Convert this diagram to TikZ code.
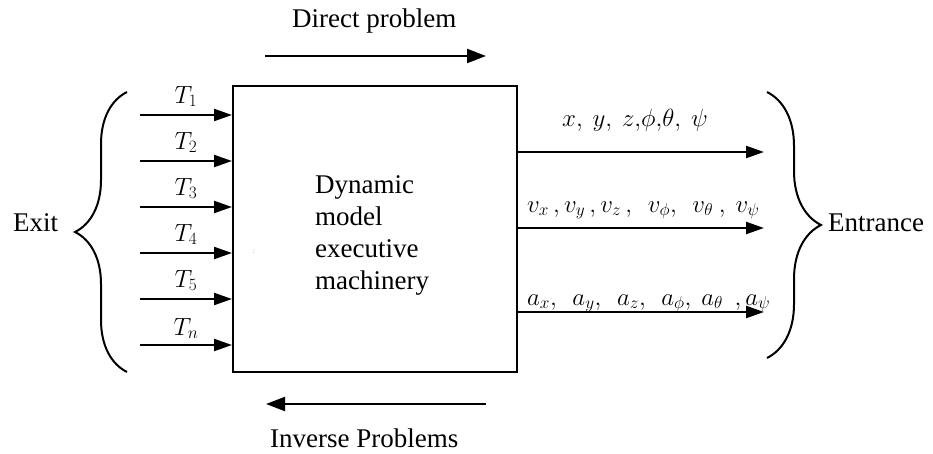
\documentclass[tikz,border=0pt]{standalone}
\usepackage{fontspec}
\setmainfont{Liberation Serif}
\usetikzlibrary{arrows.meta, positioning, calc, decorations.pathreplacing}
\tikzset{
    modelbox/.style={draw, line width=2pt, minimum width=284pt,
                     minimum height=286pt, inner sep=0pt},
    bigtext/.style={font=\fontsize{27}{32}\selectfont, inner sep=0pt},
    symtext/.style={font=\fontsize{23}{26}\selectfont, inner sep=0pt},
    tlabel/.style={font=\fontsize{26}{28}\selectfont, inner sep=0pt},
    sigarrow/.style={-{Triangle[length=18pt, width=12pt]}, line width=2.2pt},
    probarrow/.style={-{Triangle[length=19pt, width=14pt]}, line width=2.2pt},
    bracket/.style={decorate, decoration={brace, amplitude=#1}, line width=2pt},
}

\begin{document}
\begin{tikzpicture}[x=1pt, y=1pt]
    \useasboundingbox (0,0) rectangle (933,-454);
    % Model block
    \node[modelbox] (model) at (375,-229) {};
    \node[bigtext, anchor=north west, align=left] (modeltext) at (315,-175)
        {Dynamic\\model\\executive\\machinery};
    \node[inner sep=0pt, font=\scriptsize, gray] (dots) at (254,-252) {:};
    % Direct / inverse problem
    \node[bigtext, anchor=base west] (direct) at (292,-28) {Direct problem};
    \coordinate (dirL) at (265,-56);
    \coordinate (dirR) at (486,-56);
    \draw[probarrow] (dirL) -- (dirR);
    \coordinate (invR) at (486,-404);
    \coordinate (invL) at (266,-404);
    \draw[probarrow] (invR) -- (invL);
    \node[bigtext, anchor=base west] (inverse) at (270,-447) {Inverse Problems};
    % Inputs
    \coordinate (in1) at (140,-115);
    \coordinate (in2) at (140,-161);
    \coordinate (in3) at (140,-207);
    \coordinate (in4) at (140,-253);
    \coordinate (in5) at (140,-299);
    \coordinate (in6) at (140,-345);
    \draw[sigarrow] (in1) -- node[tlabel, above=7pt] (t1) {$T_1$} (in1 -| model.west);
    \draw[sigarrow] (in2) -- node[tlabel, above=7pt] (t2) {$T_2$} (in2 -| model.west);
    \draw[sigarrow] (in3) -- node[tlabel, above=7pt] (t3) {$T_3$} (in3 -| model.west);
    \draw[sigarrow] (in4) -- node[tlabel, above=7pt] (t4) {$T_4$} (in4 -| model.west);
    \draw[sigarrow] (in5) -- node[tlabel, above=7pt] (t5) {$T_5$} (in5 -| model.west);
    \draw[sigarrow] (in6) -- node[tlabel, above=5pt] (tn) {$T_n$} (in6 -| model.west);
    % Outputs
    \coordinate (out1) at (764,-152);
    \coordinate (out2) at (764,-228);
    \coordinate (out3) at (764,-312);
    \draw[sigarrow] (out1 -| model.east) -- (out1);
    \draw[sigarrow] (out2 -| model.east) -- (out2);
    \draw[sigarrow] (out3 -| model.east) -- (out3);
    \node[symtext, anchor=base west] (pos) at (562,-127)
        {$x,\ y,\ z,\!\phi,\!\theta,\ \psi$};
    \node[symtext, anchor=base west] (vel) at (527,-212)
        {$v_x\,, v_y\,, v_z\,,\ \ v_\phi,\ \ v_\theta\ ,\ v_\psi$};
    \node[symtext, anchor=base west] (acc) at (527,-305)
        {$a_x,\ \ a_y,\ \ a_z,\ \ a_\phi,\ a_\theta\ \ , a_\psi$};
    % Braces
    \coordinate (exitB) at (127,-372);
    \coordinate (exitT) at (127,-92);
    \draw[bracket=52pt] (exitB) -- (exitT);
    \node[bigtext, anchor=base west] (exit) at (13,-232) {Exit};
    \coordinate (entT) at (767,-92);
    \coordinate (entB) at (767,-358);
    \draw[bracket=54pt] (entT) -- (entB);
    \node[bigtext, anchor=base west] (entrance) at (828,-232) {Entrance};
\end{tikzpicture}
\end{document}
